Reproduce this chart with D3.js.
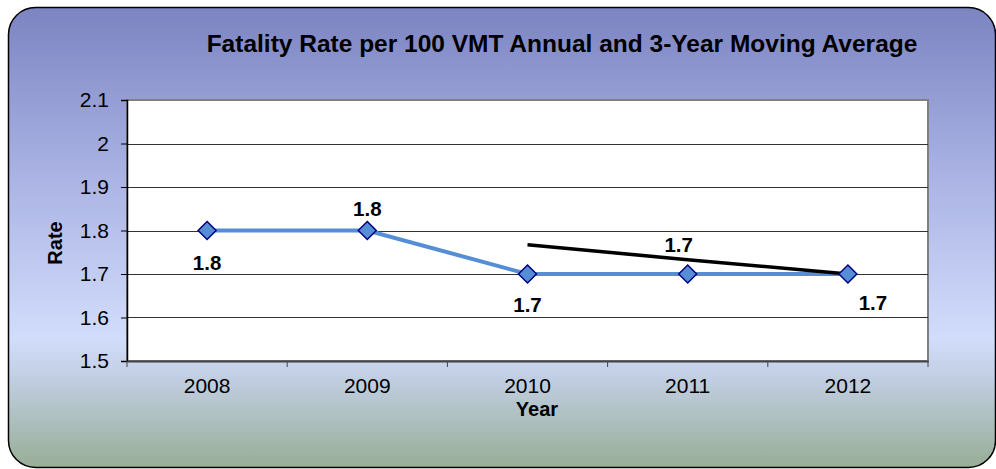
<!DOCTYPE html>
<meta charset="utf-8">
<style>
body { margin: 0; background: #fff; }
text { font-family: "Liberation Sans", Arial, sans-serif; }
</style>
<body>
<script src="https://d3js.org/d3.v7.min.js"></script>
<script>

var years = ["2008", "2009", "2010", "2011", "2012"];
var annual = [1.8, 1.8, 1.7, 1.7, 1.7];
var movingAvg = [null, null, 1.767, 1.733, 1.7];
var yTicks = [1.5, 1.6, 1.7, 1.8, 1.9, 2.0, 2.1];
// label placement for each data label: [series, index, text, dx, dy]
var labels = [
  ["annual", 0, "1.8", 0, 39],
  ["annual", 1, "1.8", 0, -15],
  ["annual", 2, "1.7", 0, 38],
  ["avg", 3, "1.7", -9, -8],
  ["annual", 4, "1.7", 25, 36]
];

var W = 996, H = 469;
var margin = {top: 100, right: 68, bottom: 108, left: 127},
    width = W - margin.left - margin.right,
    height = H - margin.top - margin.bottom;

var svg = d3.select("body").append("svg")
    .attr("width", W)
    .attr("height", H);

var defs = svg.append("defs");
var grad = defs.append("linearGradient")
    .attr("id", "bg").attr("x1", 0).attr("y1", 0).attr("x2", 0).attr("y2", 1);
grad.append("stop").attr("offset", "0%").attr("stop-color", "#7c84c2");
grad.append("stop").attr("offset", "35%").attr("stop-color", "#a8b1e2");
grad.append("stop").attr("offset", "72%").attr("stop-color", "#d2ddfc");
grad.append("stop").attr("offset", "80%").attr("stop-color", "#c2cfe4");
grad.append("stop").attr("offset", "100%").attr("stop-color", "#97ae96");

svg.append("rect")
    .attr("x", 8.5).attr("y", 7.5)
    .attr("width", 987).attr("height", 460)
    .attr("rx", 27).attr("ry", 27)
    .style("fill", "url(#bg)")
    .style("stroke", "#000")
    .style("stroke-width", 1.5);

svg.append("text")
    .attr("x", 562).attr("y", 52)
    .attr("text-anchor", "middle")
    .style("font-size", "24.5px")
    .style("font-weight", "bold")
    .text("Fatality Rate per 100 VMT Annual and 3-Year Moving Average");

var g = svg.append("g")
    .attr("transform", "translate(" + margin.left + "," + margin.top + ")");

var x = d3.scaleBand().domain(years).range([0, width]);
var y = d3.scaleLinear().domain([1.5, 2.1]).range([height, 0]);

g.append("rect")
    .attr("width", width).attr("height", height)
    .style("fill", "#fff")
    .style("stroke", "#808080")
    .style("stroke-width", 2);

// gridlines
g.selectAll(".grid")
  .data(yTicks.slice(1, -1))
  .enter().append("line")
    .attr("x1", 0).attr("x2", width)
    .attr("y1", function(d) { return Math.round(y(d)) + 0.5; })
    .attr("y2", function(d) { return Math.round(y(d)) + 0.5; })
    .style("stroke", "#333")
    .style("stroke-width", 1);

var yAxis = g.append("g")
    .call(d3.axisLeft(y).tickValues(yTicks).tickSize(6).tickPadding(12)
      .tickFormat(function(d) { return d3.format("")(+d.toFixed(1)); }));
yAxis.select(".domain").style("stroke", "#000").style("stroke-width", 1.5);
yAxis.selectAll(".tick line").style("stroke", "#000");
yAxis.selectAll("text").style("font-size", "21px").style("fill", "#000")
    .style("font-family", "'Liberation Sans', Arial, sans-serif");

var xAxis = g.append("g")
    .attr("transform", "translate(0," + height + ")")
    .call(d3.axisBottom(x).tickSize(0).tickPadding(17));
xAxis.select(".domain").style("stroke", "#444").style("stroke-width", 2);
xAxis.selectAll("text").style("font-size", "21px").style("fill", "#000")
    .style("font-family", "'Liberation Sans', Arial, sans-serif");

// category boundary ticks
g.selectAll(".xtick")
  .data(years.concat(["end"]))
  .enter().append("line")
    .attr("x1", function(d, i) { return i * x.step(); })
    .attr("x2", function(d, i) { return i * x.step(); })
    .attr("y1", height).attr("y2", height + 6)
    .style("stroke", "#444");

var cx = function(i) { return x(years[i]) + x.bandwidth() / 2; };

var line = d3.line()
    .defined(function(d) { return d != null; })
    .x(function(d, i) { return cx(i); })
    .y(function(d) { return y(d); });

g.append("path")
    .datum(annual)
    .attr("d", line)
    .style("fill", "none")
    .style("stroke", "#558ed5")
    .style("stroke-width", 4);

g.append("path")
    .datum(movingAvg)
    .attr("d", line)
    .style("fill", "none")
    .style("stroke", "#000")
    .style("stroke-width", 3.5);

g.selectAll(".marker")
  .data(annual)
  .enter().append("path")
    .attr("transform", function(d, i) { return "translate(" + cx(i) + "," + y(d) + ")"; })
    .attr("d", "M0,-9L9,0L0,9L-9,0Z")
    .style("fill", "#558ed5")
    .style("stroke", "#000080")
    .style("stroke-width", 1.5);

g.selectAll(".lbl")
  .data(labels)
  .enter().append("text")
    .attr("x", function(d) { return cx(d[1]) + d[3]; })
    .attr("y", function(d) {
      var v = d[0] === "annual" ? annual[d[1]] : movingAvg[d[1]];
      return y(v) + d[4];
    })
    .attr("text-anchor", "middle")
    .style("font-size", "20.5px")
    .style("font-weight", "bold")
    .text(function(d) { return d[2]; });

svg.append("text")
    .attr("transform", "translate(62,243) rotate(-90)")
    .attr("text-anchor", "middle")
    .style("font-size", "20px")
    .style("font-weight", "bold")
    .text("Rate");

svg.append("text")
    .attr("x", 537).attr("y", 416)
    .attr("text-anchor", "middle")
    .style("font-size", "20px")
    .style("font-weight", "bold")
    .text("Year");

</script>
</body>
